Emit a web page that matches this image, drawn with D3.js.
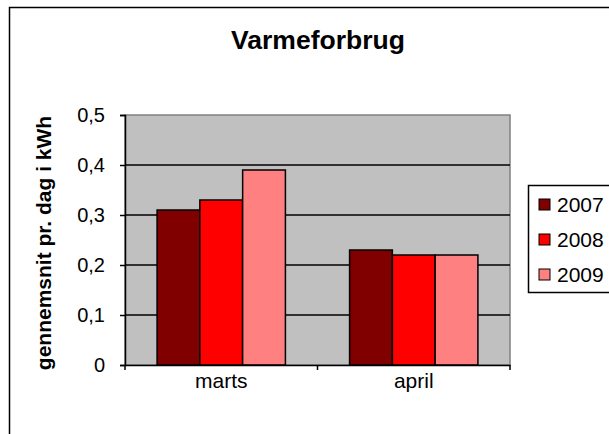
<!DOCTYPE html>
<html>
<head>
<meta charset="utf-8">
<script src="https://cdn.jsdelivr.net/npm/d3@7"></script>
<style>
    body { margin: 0; background: #fff; }
    svg { display: block; font-family: "Liberation Sans", Arial, sans-serif; }
</style>
</head>
<body>
<div id="chart"></div>
<script>
// data
var categories = ["marts", "april"];
var years = ["2007", "2008", "2009"];
var values2007 = [0.31, 0.23];
var values2008 = [0.33, 0.22];
var values2009 = [0.39, 0.22];
var colors = ["#800000", "#ff0000", "#ff8080"];
var yTicks = [0, 0.1, 0.2, 0.3, 0.4, 0.5];

var series = [values2007, values2008, values2009];

var width = 609, height = 434;
var plot = {left: 125, top: 115, right: 510, bottom: 365};

var svg = d3.select("#chart")
    .append("svg")
    .attr("width", width)
    .attr("height", height);

// outer chart border (runs off to the right and bottom)
svg.append("rect")
    .attr("x", 9.5).attr("y", 7.5)
    .attr("width", 640).attr("height", 460)
    .attr("fill", "#fff")
    .attr("stroke", "#000")
    .attr("stroke-width", 1.5);

svg.append("text")
    .attr("x", 318).attr("y", 49)
    .attr("text-anchor", "middle")
    .attr("font-size", 26.5)
    .attr("font-weight", "bold")
    .text("Varmeforbrug");

var y = d3.scaleLinear().domain([0, 0.5]).range([plot.bottom, plot.top]);
var x0 = d3.scaleBand().domain(categories).range([plot.left, plot.right]);
var bw = x0.bandwidth() / 4.5;
var x1 = d3.scaleBand().domain(years)
    .range([bw * 0.75, x0.bandwidth() - bw * 0.75]);

// plot background
svg.append("rect")
    .attr("x", plot.left).attr("y", plot.top)
    .attr("width", plot.right - plot.left)
    .attr("height", plot.bottom - plot.top)
    .attr("fill", "#c0c0c0")
    .attr("stroke", "#808080")
    .attr("stroke-width", 1.5);

// gridlines
svg.append("g").selectAll("line")
    .data(yTicks.slice(1, -1))
    .enter().append("line")
    .attr("x1", plot.left).attr("x2", plot.right)
    .attr("y1", function (d) { return y(d); })
    .attr("y2", function (d) { return y(d); })
    .attr("stroke", "#000")
    .attr("stroke-width", 1.5);

// bars
var groups = svg.append("g").selectAll("g")
    .data(categories)
    .enter().append("g")
    .attr("transform", function (d) { return "translate(" + x0(d) + ",0)"; });

groups.selectAll("rect")
    .data(function (d, i) {
        return years.map(function (yr, j) { return {year: yr, value: series[j][i], color: colors[j]}; });
    })
    .enter().append("rect")
    .attr("x", function (d) { return x1(d.year); })
    .attr("width", x1.bandwidth())
    .attr("y", function (d) { return y(d.value); })
    .attr("height", function (d) { return y(0) - y(d.value); })
    .attr("fill", function (d) { return d.color; })
    .attr("stroke", "#000")
    .attr("stroke-width", 1.5);

// y axis
var yAxis = svg.append("g")
    .attr("transform", "translate(" + plot.left + ",0)")
    .call(d3.axisLeft(y).tickValues(yTicks).tickSize(5).tickPadding(15)
        .tickFormat(function (d) { return d3.format(".1f")(d).replace(".", ",").replace("0,0", "0"); }));
yAxis.attr("font-family", null).attr("font-size", 20);
yAxis.select(".domain").attr("stroke-width", 1.5);
yAxis.selectAll(".tick line").attr("stroke-width", 1.5);
yAxis.selectAll("text").attr("fill", "#000");

// x axis
var xAxis = svg.append("g")
    .attr("transform", "translate(0," + plot.bottom + ")")
    .call(d3.axisBottom(x0).tickSize(0).tickPadding(8));
xAxis.attr("font-family", null).attr("font-size", 21);
xAxis.select(".domain").attr("stroke-width", 1.5);
xAxis.selectAll("text").attr("fill", "#000");

svg.append("g").selectAll("line")
    .data([plot.left, plot.left + x0.bandwidth(), plot.right])
    .enter().append("line")
    .attr("x1", function (d) { return d; })
    .attr("x2", function (d) { return d; })
    .attr("y1", plot.bottom).attr("y2", plot.bottom + 5)
    .attr("stroke", "#000")
    .attr("stroke-width", 1.5);

// y axis title
svg.append("text")
    .attr("transform", "translate(51,243) rotate(-90)")
    .attr("text-anchor", "middle")
    .attr("font-size", 21)
    .attr("font-weight", "bold")
    .text("gennemsnit pr. dag i kWh");

// legend
var legend = svg.append("g");
legend.append("rect")
    .attr("x", 528.5).attr("y", 185.5)
    .attr("width", 120).attr("height", 107)
    .attr("fill", "#fff")
    .attr("stroke", "#000")
    .attr("stroke-width", 1.5);

var items = legend.selectAll("g.item")
    .data(years)
    .enter().append("g")
    .attr("class", "item")
    .attr("transform", function (d, i) { return "translate(0," + (204 + i * 35) + ")"; });
items.append("rect")
    .attr("x", 539).attr("y", -5)
    .attr("width", 11).attr("height", 11)
    .attr("fill", function (d, i) { return colors[i]; })
    .attr("stroke", "#000")
    .attr("stroke-width", 1);
items.append("text")
    .attr("x", 557).attr("y", 8)
    .attr("font-size", 21)
    .text(function (d) { return d; });
</script>
</body>
</html>
